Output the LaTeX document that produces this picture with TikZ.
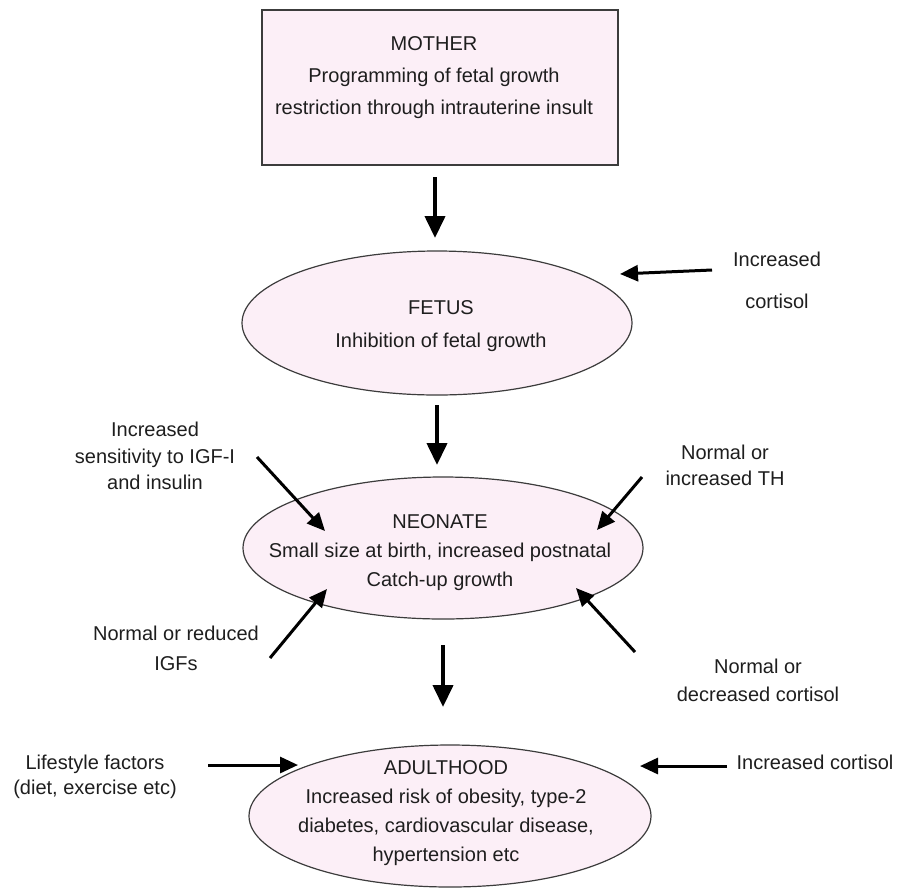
\documentclass[tikz,border=0pt]{standalone}
\usepackage{fontspec}
\setmainfont{Liberation Sans}
\usetikzlibrary{arrows.meta,shapes.geometric}

\definecolor{stagefill}{RGB}{252,239,247}
\definecolor{edgegray}{RGB}{60,60,60}
\definecolor{inkgray}{RGB}{30,30,30}

\tikzset{
  stagebox/.style={draw=edgegray, line width=1.4pt, fill=stagefill, rectangle,
    inner sep=0pt},
  stageoval/.style={draw=edgegray, line width=1.2pt, fill=stagefill, ellipse,
    inner sep=0pt},
  stagetext/.style={align=center, text=inkgray, inner sep=0pt,
    font=\fontsize{20}{#1}\selectfont},
  sidetext/.style={align=center, text=inkgray, inner sep=0pt,
    font=\fontsize{20}{#1}\selectfont},
  mainarrow/.style={draw=black, line width=4pt,
    -{Triangle[length=22pt,width=20pt]}},
  sidearrow/.style={draw=black, line width=3pt,
    -{Triangle[length=18pt,width=16pt]}},
}

\begin{document}
\begin{tikzpicture}[x=1pt, y=-1pt]
  \useasboundingbox (0,0) rectangle (901,892);

  % stages
  \node[stagebox, minimum width=356pt, minimum height=155pt] (mother) at (440,87.5) {};
  \node[stagetext=32pt] (mothertxt) at (434,78)
    {MOTHER\\Programming of fetal growth\\restriction through intrauterine insult};

  \node[stageoval, minimum width=390pt, minimum height=144pt] (fetus) at (437,323) {};
  \node[stagetext=33pt] (fetustxt) at (441,326) {FETUS\\Inhibition of fetal growth};

  \node[stageoval, minimum width=400pt, minimum height=142pt] (neonate) at (443,548) {};
  \node[stagetext=29pt] (neonatetxt) at (440,553)
    {NEONATE\\Small size at birth, increased postnatal\\Catch-up growth};

  \node[stageoval, minimum width=402pt, minimum height=142pt] (adult) at (450,816) {};
  \node[stagetext=29pt] (adulttxt) at (446,813)
    {ADULTHOOD\\Increased risk of obesity, type-2\\diabetes, cardiovascular disease,\\hypertension etc};

  % arrows between stages
  \coordinate (m1) at (435,177);  \coordinate (f0) at (435,238);
  \coordinate (f1) at (437,405);  \coordinate (n0) at (437,465);
  \coordinate (n1) at (443,645);  \coordinate (a0) at (443,707);
  \draw[mainarrow] (m1) -- (f0);
  \draw[mainarrow] (f1) -- (n0);
  \draw[mainarrow] (n1) -- (a0);

  % influences on the fetus
  \node[sidetext=42pt] (fcort) at (777,280) {Increased\\cortisol};
  \coordinate (fcs) at (712,270); \coordinate (fce) at (620,274);
  \draw[sidearrow] (fcs) -- (fce);

  % influences on the neonate
  \node[sidetext=26.5pt] (igfsens) at (155,456)
    {Increased\\sensitivity to IGF-I\\and insulin};
  \coordinate (iss) at (257,457); \coordinate (ise) at (325,531);
  \draw[sidearrow] (iss) -- (ise);

  \node[sidetext=26pt] (thyroid) at (725,465) {Normal or\\increased TH};
  \coordinate (ths) at (642,477); \coordinate (the) at (597,530);
  \draw[sidearrow] (ths) -- (the);

  \node[sidetext=30pt] (igfs) at (176,648) {Normal or reduced\\IGFs};
  \coordinate (igs) at (270,658); \coordinate (ige) at (327,589);
  \draw[sidearrow] (igs) -- (ige);

  \node[sidetext=28pt] (ncort) at (758,680) {Normal or\\decreased cortisol};
  \coordinate (ncs) at (635,652); \coordinate (nce) at (576,588);
  \draw[sidearrow] (ncs) -- (nce);

  % influences on adulthood
  \node[sidetext=25pt] (lifestyle) at (95,777) {Lifestyle factors\\(diet, exercise etc)};
  \coordinate (lfs) at (208,765); \coordinate (lfe) at (298,765);
  \draw[sidearrow] (lfs) -- (lfe);

  \node[sidetext=25pt] (acort) at (815,762) {Increased cortisol};
  \coordinate (acs) at (727,766); \coordinate (ace) at (640,766);
  \draw[sidearrow] (acs) -- (ace);
\end{tikzpicture}
\end{document}
